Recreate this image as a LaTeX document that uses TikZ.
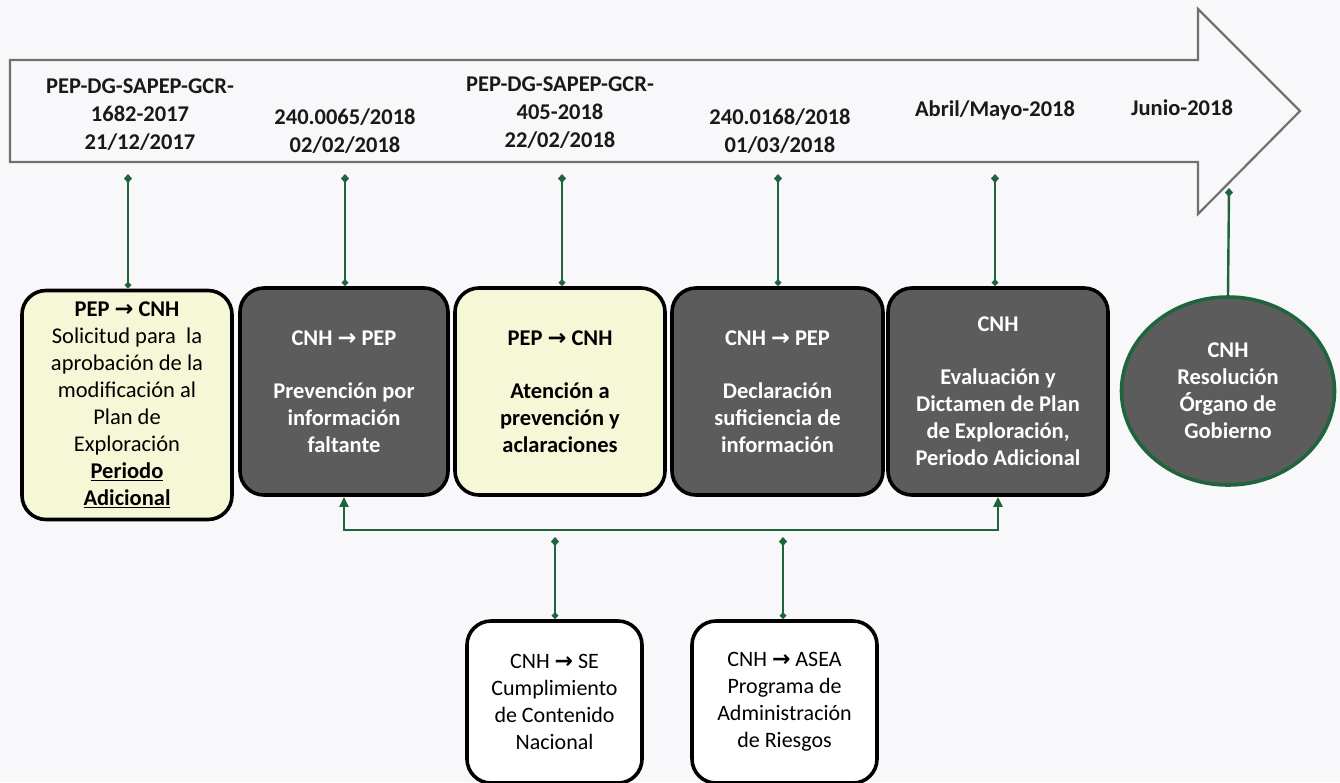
\documentclass[tikz,border=0pt]{standalone}
\usepackage{fontspec}
\setmainfont{Carlito}
\newfontfamily\arrfont{DejaVu Sans}
\usetikzlibrary{arrows.meta,shapes.geometric}
\definecolor{bgc}{RGB}{248,247,249}
\definecolor{grn}{RGB}{32,100,62}
\definecolor{yel}{RGB}{246,247,214}
\definecolor{dgray}{RGB}{92,92,92}
\definecolor{agray}{RGB}{112,112,112}
\newcommand{\ar}{{\arrfont\bfseries →}}
\tikzset{
  hdr/.style={font=\fontsize{22.5}{28}\selectfont\bfseries, align=center, text=black!90},
  boxbase/.style={draw=black, line width=3.6pt, rounded corners=24pt, align=center,
     font=\fontsize{22.5}{27}\selectfont, inner sep=0pt},
  ybox/.style={boxbase, fill=yel, text=black},
  gbox/.style={boxbase, fill=dgray, text=white, font=\fontsize{22.5}{27}\selectfont\bfseries},
  wbox/.style={boxbase, fill=white, text=black, font=\fontsize{22}{27}\selectfont},
  stem/.style={grn, line width=2.4pt, {Diamond[length=9pt,width=8pt]}-{Diamond[length=7pt,width=7pt]}},
  link/.style={grn, line width=2.4pt}
}
\begin{document}
\begin{tikzpicture}[x=1pt,y=-1pt]
\fill[bgc] (0,0) rectangle (1340,782);
\useasboundingbox (0,0) rectangle (1340,782);
% big arrow
\draw[agray, line width=2.2pt, fill=bgc, line join=miter]
  (10,60) -- (1198,60) -- (1198,9) -- (1300,111) -- (1198,214) -- (1198,162) -- (10,162) -- cycle;
% header texts
\node[hdr] (t1) at (140,115) {PEP-DG-SAPEP-GCR-\\1682-2017\\21/12/2017};
\node[hdr] (t2) at (345,131) {240.0065/2018\\02/02/2018};
\node[hdr] (t3) at (560,113) {PEP-DG-SAPEP-GCR-\\405-2018\\22/02/2018};
\node[hdr] (t4) at (780,131) {240.0168/2018\\01/03/2018};
\node[hdr] (t5) at (995,110) {Abril/Mayo-2018};
\node[hdr] (t6) at (1182,108) {Junio-2018};
% anchor coordinates under arrow
\coordinate (c1) at (128,174);
\coordinate (c2) at (345,174);
\coordinate (c3) at (562,174);
\coordinate (c4) at (778,174);
\coordinate (c5) at (995,174);
\coordinate (c6) at (1229,188);
% boxes
\node[ybox, minimum width=210pt, minimum height=229pt] (b1) at (127,405)
  {{\bfseries PEP \ar{} CNH}\\Solicitud para\ \ la\\aprobación de la\\modificación al\\Plan de\\Exploración\\{\bfseries\underline{Periodo}}\\{\bfseries\underline{Adicional}}};
\node[gbox, minimum width=208pt, minimum height=207pt] (b2) at (344,391.5)
  {CNH \ar{} PEP\\[26pt]Prevención por\\información\\faltante};
\node[ybox, minimum width=210pt, minimum height=207pt, font=\fontsize{22.5}{27}\selectfont\bfseries] (b3) at (560,391.5)
  {PEP \ar{} CNH\\[26pt]Atención a\\prevención y\\aclaraciones};
\node[gbox, minimum width=211pt, minimum height=207pt] (b4) at (777.5,391.5)
  {CNH \ar{} PEP\\[26pt]Declaración\\suficiencia de\\información};
\node[gbox, minimum width=220pt, minimum height=207pt] (b5) at (998,391.5)
  {CNH\\[26pt]Evaluación y\\Dictamen de Plan\\de Exploración,\\Periodo Adicional};
\node[ellipse, draw=grn, line width=3.6pt, fill=dgray, text=white, align=center,
  font=\fontsize{22.5}{27}\selectfont\bfseries, minimum width=213pt, minimum height=188pt, inner sep=0pt] (b6) at (1228,391)
  {CNH\\Resolución\\Órgano de\\Gobierno};
\node[wbox, minimum width=175pt, minimum height=162pt] (b7) at (554.5,702)
  {CNH \ar{} SE\\Cumplimiento\\de Contenido\\Nacional};
\node[wbox, minimum width=185pt, minimum height=162pt] (b8) at (784.5,702)
  {CNH \ar{} ASEA\\Programa de\\Administración\\de Riesgos};
% stems
\draw[stem] (c1) -- (b1.north -| c1);
\draw[stem] (c2) -- (b2.north -| c2);
\draw[stem] (c3) -- (b3.north -| c3);
\draw[stem] (c4) -- (b4.north -| c4);
\draw[stem] (c5) -- (b5.north -| c5);
\draw[link, {Diamond[length=9pt,width=8pt]}-] (c6) -- (b6.north);
% feedback line
\coordinate (j) at (0,530);
\draw[link, {Triangle[length=10pt,width=9pt]}-{Triangle[length=10pt,width=9pt]}]
  (b2.south) -- (b2.south |- j) -- (b5.south |- j) -- (b5.south);
\coordinate (d7) at (555,537);
\coordinate (d8) at (783,537);
\draw[stem] (d7) -- (b7.north -| d7);
\draw[stem] (d8) -- (b8.north -| d8);
\end{tikzpicture}
\end{document}
